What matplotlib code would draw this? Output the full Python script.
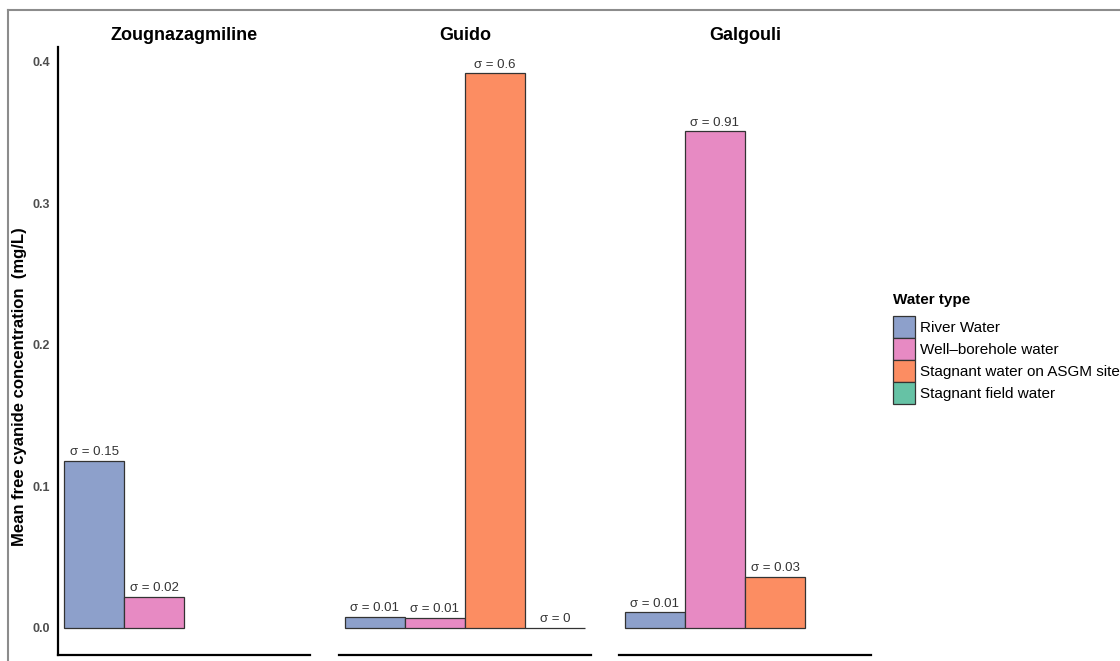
import numpy as np
import matplotlib
matplotlib.use("Agg")
import matplotlib.pyplot as plt
from matplotlib.patches import Patch
from matplotlib.lines import Line2D

plt.rcParams['font.family'] = ['Liberation Sans', 'DejaVu Sans']

# data
sites = ['Zougnazagmiline', 'Guido', 'Galgouli']
water_types = ['River Water', 'Well\u2013borehole water',
               'Stagnant water on ASGM site', 'Stagnant field water']
colors = ['#8DA0CB', '#E78AC3', '#FC8D62', '#66C2A5']

# mean concentration per water type, one value per site (nan = no sample)
river_mean = [0.118, 0.008, 0.011]
well_mean = [0.022, 0.007, 0.351]
asgm_mean = [np.nan, 0.392, 0.036]
field_mean = [np.nan, 0.0, np.nan]

# standard deviation labels
river_sd = ['0.15', '0.01', '0.01']
well_sd = ['0.02', '0.01', '0.91']
asgm_sd = [None, '0.6', '0.03']
field_sd = [None, '0', None]

means = [river_mean, well_mean, asgm_mean, field_mean]
sds = [river_sd, well_sd, asgm_sd, field_sd]

W, H = 1120, 661
fig = plt.figure(figsize=(W / 100, H / 100), dpi=100)

# panel edges in pixels
panel_x = [(58, 310), (339, 591), (619, 871)]
top_px, bot_px = 47, 655

bar_w = 0.25
offsets = np.array([-0.375, -0.125, 0.125, 0.375])

for i, site in enumerate(sites):
    x0, x1 = panel_x[i]
    ax = fig.add_axes([x0 / W, 1 - bot_px / H, (x1 - x0) / W, (bot_px - top_px) / H])
    for k in range(4):
        v = means[k][i]
        if np.isnan(v):
            continue
        ax.bar(offsets[k], v, width=bar_w, color=colors[k],
               edgecolor='#333333', linewidth=0.9)
        ax.annotate('\u03c3 = ' + sds[k][i], (offsets[k], v),
                    xytext=(0, 2), textcoords='offset points',
                    ha='center', va='bottom', fontsize=9.5, color='#333333')
    ax.set_xlim(-0.525, 0.525)
    ax.set_ylim(-0.0191, 0.4106)
    ax.set_title(site, fontsize=13, fontweight='bold', pad=5)
    ax.spines['top'].set_visible(False)
    ax.spines['right'].set_visible(False)
    ax.spines['bottom'].set_linewidth(1.6)
    ax.set_xticks([])
    if i == 0:
        ax.spines['left'].set_linewidth(1.6)
        ax.set_yticks([0.0, 0.1, 0.2, 0.3, 0.4])
        ax.set_yticklabels(['0.0', '0.1', '0.2', '0.3', '0.4'])
        ax.tick_params(axis='y', length=0, pad=6, labelsize=9,
                       labelcolor='#4D4D4D')
        for lab in ax.get_yticklabels():
            lab.set_fontweight('bold')
    else:
        ax.spines['left'].set_visible(False)
        ax.set_yticks([])

fig.text(20 / W, 1 - 387 / H, 'Mean free cyanide concentration  (mg/L)',
         rotation=90, ha='center', va='center', fontsize=12, fontweight='bold')

# legend: title as its own text so the gap above the keys matches
fig.text(893 / W, 1 - 300 / H, 'Water type', ha='left', va='center',
         fontsize=11, fontweight='bold')
handles = [Patch(facecolor=c, edgecolor='#333333', linewidth=0.9) for c in colors]
leg = fig.legend(handles, water_types, loc='upper left',
                 bbox_to_anchor=(893 / W, 1 - 316 / H), frameon=False,
                 fontsize=11, handlelength=1.45, handleheight=1.85,
                 labelspacing=0, handletextpad=0.3, borderpad=0,
                 borderaxespad=0)

# grey frame around the picture (top and left edges)
fig.add_artist(Line2D([8 / W, 1], [1 - 10 / H, 1 - 10 / H],
                      transform=fig.transFigure, color='#8C8C8C', linewidth=1.5))
fig.add_artist(Line2D([8 / W, 8 / W], [0, 1 - 10 / H],
                      transform=fig.transFigure, color='#8C8C8C', linewidth=1.5))

fig.savefig('out.png', dpi=100)
